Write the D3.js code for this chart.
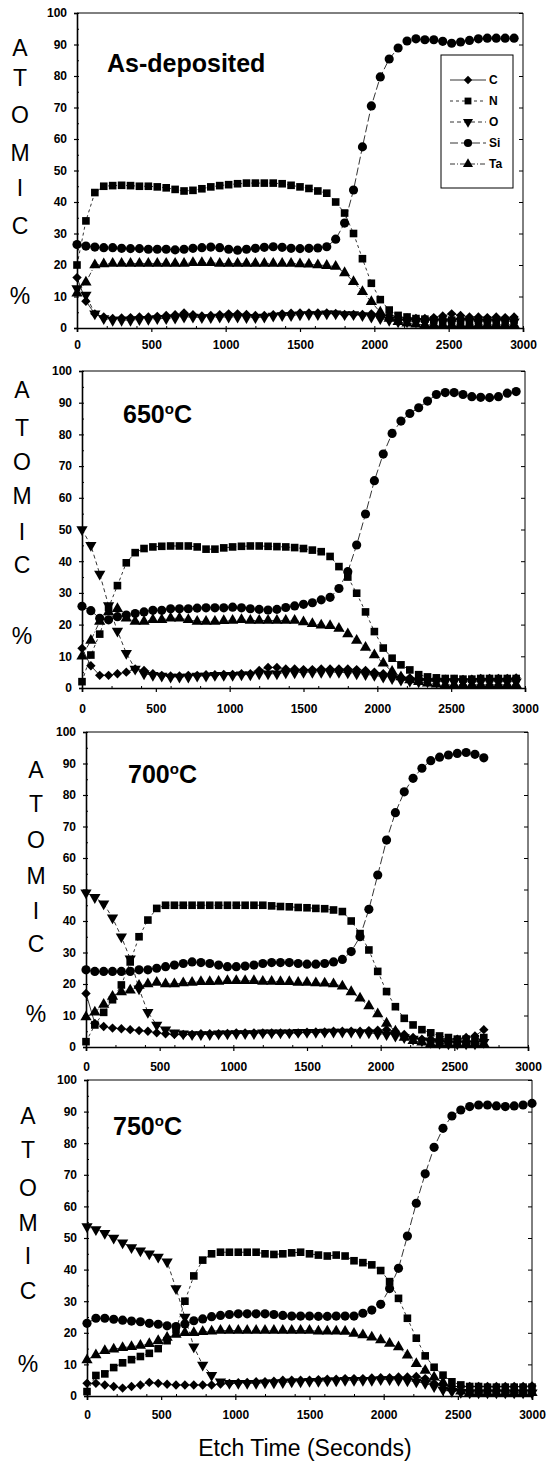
<!DOCTYPE html>
<html>
<head>
<meta charset="utf-8">
<script src="https://cdn.jsdelivr.net/npm/d3@7"></script>
<style>
  body { margin: 0; background: #fff; }
  text { font-family: "Liberation Sans", Arial, sans-serif; fill: #000; }
</style>
</head>
<body>
<svg id="chart" width="550" height="1462"></svg>
<script>
// etch time grid (seconds), series values below are matched by index
const etchTime = [
  0, 60, 120, 180, 240, 300, 360, 420, 480, 540,
  600, 660, 720, 780, 840, 900, 960, 1020, 1080, 1140,
  1200, 1260, 1320, 1380, 1440, 1500, 1560, 1620, 1680, 1740,
  1800, 1860, 1920, 1980, 2040, 2100, 2160, 2220, 2280, 2340,
  2400, 2460, 2520, 2580, 2640, 2700, 2760, 2820, 2880, 2940,
  3000];

const elements = ["C", "N", "O", "Si", "Ta"];
const yTickValues = [0, 10, 20, 30, 40, 50, 60, 70, 80, 90, 100];
const xTickValues = [0, 500, 1000, 1500, 2000, 2500, 3000];
const axisLetters = ["A", "T", "O", "M", "I", "C", "%"];
const panelTitles = ["As-deposited", "650", "700", "750"];

// --- As-deposited ---
const asDepC = [
  16, 8.5, 4.5, 3.5, 3, 3.2, 3.3, 3.5, 3.5, 3.7,
  4, 4.2, 4.8, 4.2, 3.8, 4, 4.2, 4.5, 4.5, 4.3,
  4, 4, 4.2, 4.5, 4.7, 4.8, 4.8, 4.8, 4.8, 4.6,
  4.3, 4.3, 4.3, 4.5, 4.2, 4, 3.5, 3.2, 3, 3,
  3.3, 3.8, 4.5, 4, 3.5, 3.5, 3.3, 3.5, 3.3, 3.5];
const asDepN = [
  20, 34, 43, 45, 45.2, 45.3, 45.2, 45, 45, 44.8,
  44.5, 44, 43.5, 43.7, 44.2, 44.8, 45.2, 45.5, 45.8, 46,
  46, 46, 46, 45.8, 45.3, 44.8, 44.3, 43.5, 42.8, 40,
  36.5, 30, 22, 14.2, 9, 5.7, 4, 3.5, 3, 2.8,
  2.5, 2.5, 2.5, 2.3, 2.3, 2.5, 2.5, 2.3, 2.3, 2.5];
const asDepO = [
  12.5, 10.5, 4.5, 3, 2.5, 2.5, 2.5, 2.7, 2.8, 3,
  3, 3.2, 3.5, 3.5, 3.3, 3.3, 3.5, 3.5, 3.5, 3.3,
  3.3, 3.5, 3.8, 4, 4, 4.2, 4.3, 4.3, 4.5, 4.5,
  4.3, 4.3, 4, 3.5, 3, 2.5, 2, 2, 2, 2,
  2, 2, 2, 2.2, 2.2, 2, 2, 2, 2.2, 2];
const asDepSi = [
  26.5, 26, 25.7, 25.5, 25.5, 25.3, 25.2, 25.2, 25, 25,
  25, 24.8, 25, 25.3, 25.5, 25.7, 25.5, 25, 24.7, 25,
  25.3, 25.6, 25.8, 25.6, 25.3, 25.2, 25.3, 25.4, 25.8, 28.2,
  33.3, 43.8, 57.5, 70.5, 79.7, 85.4, 88.9, 91.1, 91.8, 91.5,
  91.5, 91, 90.4, 90.8, 91.3, 91.8, 92, 92, 92, 92];
const asDepTa = [
  11, 14.5, 20, 20.3, 20.5, 20.5, 20.5, 20.5, 20.5, 20.5,
  20.5, 20.5, 20.5, 20.7, 20.7, 20.7, 20.5, 20.5, 20.5, 20.5,
  20.5, 20.5, 20.5, 20.5, 20.5, 20.3, 20.2, 20, 19.8, 19.5,
  17.5, 14.7, 11.5, 8.3, 5, 3, 2, 1.5, 1.2, 1,
  1, 1, 1, 1, 1, 1, 1, 1, 1, 1];

// --- 650 C ---
const t650C = [
  12.5, 7, 4, 4, 4.5, 5, 6, 5.5, 4.5, 4,
  3.8, 3.8, 4, 4, 4.2, 4.2, 4.3, 4.3, 4.5, 4.5,
  5.5, 6.5, 6.5, 6, 6, 5.8, 5.8, 6, 6, 6,
  6, 5.8, 5.5, 5, 4.5, 4, 3.5, 3.2, 3, 2.8,
  2.8, 2.8, 2.7, 2.7, 2.8, 3, 3, 3, 3, 3.2];
const t650N = [
  2, 10.4, 17, 25.4, 32.3, 39.5, 42.7, 44, 44.5, 44.7,
  44.8, 44.8, 44.8, 44.5, 43.8, 43.8, 44.2, 44.5, 44.7, 44.8,
  44.8, 44.7, 44.6, 44.5, 44.3, 44, 43.5, 43, 41.5, 38.3,
  35, 29.9, 24, 17.8, 12.6, 9.4, 7.3, 5.7, 4.2, 3.5,
  3.2, 3, 3, 2.8, 2.8, 3, 3, 3, 3, 3];
const t650O = [
  50, 45, 36, 26, 18, 11, 6, 4.5, 4, 3.8,
  3.5, 3.5, 3.5, 3.8, 3.8, 4, 4, 4, 4.2, 4.2,
  4.5, 4.5, 4.5, 4.8, 4.8, 5, 5, 5, 5, 5,
  4.8, 4.5, 4.3, 4, 3.5, 3, 2.5, 2.2, 2, 2,
  2, 2, 2, 2, 2, 2, 2, 2, 2, 2];
const t650Si = [
  25.8, 24.4, 22, 21.5, 22.5, 23, 23.5, 24, 24.5, 24.5,
  25, 25, 25, 25.2, 25.3, 25.3, 25.3, 25.5, 25.3, 25,
  24.8, 24.6, 24.8, 25.4, 25.9, 26.4, 26.9, 27.8, 28.6, 31.4,
  36.7, 45.1, 54.9, 65.4, 73.8, 80.3, 84.2, 86.6, 88.4, 90.5,
  92.6, 93.2, 93.2, 92.6, 91.9, 91.7, 91.6, 91.9, 93, 93.5];
const t650Ta = [
  10, 15, 21, 24, 25, 22, 21, 21, 21.5, 21.5,
  22, 22, 21.5, 21, 21, 21, 21.2, 21.3, 21.5, 21.3,
  21.3, 21.3, 21.3, 21.3, 21.3, 20.8, 20.3, 19.8, 19.6, 18.8,
  17, 15, 12.8, 10.4, 7.8, 5.2, 3.5, 2.5, 2, 1.5,
  1.2, 1, 1, 1, 1, 1, 1, 1, 1, 1];

// --- 700 C ---
const t700C = [
  17, 7.5, 6.5, 6, 5.8, 5.5, 5.2, 5, 4.5, 4.2,
  4, 4, 4, 4.2, 4.2, 4.2, 4.3, 4.5, 4.5, 4.5,
  4.5, 4.5, 4.5, 4.5, 4.5, 4.7, 4.8, 4.8, 5, 5,
  5, 5, 5.2, 5.3, 5.5, 5, 4, 3, 2.5, 2.5,
  2.5, 2.5, 2.5, 3, 3.5, 5.5];
const t700N = [
  1.7, 7, 11, 15, 19.7, 27, 35, 40.3, 44, 45,
  45, 45, 45, 45, 45, 45, 45, 45, 45, 45,
  45, 44.8, 44.6, 44.5, 44.3, 44.2, 44, 43.9, 43.5, 43,
  40, 36, 30.8, 24, 17.6, 12.8, 9.1, 7, 5.5, 4.5,
  3.5, 3, 2.5, 2.5, 2.5, 3];
const t700O = [
  49, 47.5, 45.5, 41, 35, 28, 18.5, 11, 7, 5.5,
  4.5, 4.2, 4, 4, 4, 4.2, 4.2, 4.3, 4.3, 4.3,
  4.5, 4.5, 4.5, 4.5, 4.7, 4.7, 4.7, 4.8, 4.8, 4.8,
  4.8, 4.5, 4.5, 4.2, 4, 3.5, 3, 2.5, 2, 1.5,
  1.2, 1, 1, 1, 1, 1.5];
const t700Si = [
  24.5, 24, 24, 24, 24, 24, 24.5, 24.5, 25, 25.5,
  26, 26.5, 27, 26.8, 26.5, 26, 25.5, 25.5, 25.7, 26,
  26.5, 26.8, 26.8, 26.8, 26.5, 26.3, 26.3, 26.5, 27, 27.8,
  30.3, 35, 43.7, 54.6, 65.7, 74.4, 81, 85.3, 88.5, 90.9,
  92, 92.7, 93.2, 93.5, 92.9, 91.8];
const t700Ta = [
  9.5, 11, 13.5, 16, 17.5, 18, 19.5, 20, 20.5, 20,
  20, 20.3, 20.5, 20.7, 20.7, 20.8, 21, 21, 21, 21,
  20.8, 20.8, 20.7, 20.7, 20.5, 20.5, 20.3, 20.2, 20, 19.3,
  17.5, 15.5, 13, 10.5, 7.5, 5, 3, 2, 1.5, 1,
  1, 1, 1, 1, 1, 1];

// --- 750 C ---
const t750C = [
  4, 4, 3.5, 3, 2.5, 3, 3.5, 4.3, 4, 3.7,
  3.5, 3.5, 3.5, 3.5, 3.5, 3.8, 4, 4.2, 4.3, 4.5,
  4.5, 4.7, 5, 5, 5, 5, 5.2, 5.3, 5.3, 5.5,
  5.5, 5.5, 5.7, 5.8, 5.8, 6, 6, 6.2, 5.5, 4,
  3.5, 3, 3, 3, 3, 3, 3, 3, 3, 3,
  3.2];
const t750N = [
  1.4, 6.5, 7, 9, 10.5, 11.5, 12.5, 13.5, 15, 17.5,
  21, 30, 38, 43, 45, 45.5, 45.5, 45.5, 45.5, 45.5,
  45, 44.8, 45, 45.3, 45.5, 45, 44.6, 44.3, 44.6, 44.3,
  42.8, 42.2, 41.5, 39.7, 36.2, 30.9, 24.6, 18.3, 12.7, 9.1,
  6.6, 4.5, 3.5, 3, 3, 2.8, 2.8, 2.8, 2.8, 2.8,
  2.8];
const t750O = [
  53.6, 52.7, 51.5, 50, 48.5, 47, 46, 45, 44, 42.5,
  34, 25, 15.6, 9.8, 6.6, 4.5, 4, 4, 4, 4,
  4.2, 4.2, 4.3, 4.5, 4.5, 4.7, 4.7, 4.8, 4.8, 5,
  5, 5, 5, 5.2, 5.2, 5, 4.8, 4.5, 4, 3,
  2, 1.5, 1.2, 1, 1, 1, 1, 1, 1, 1,
  1];
const t750Si = [
  23, 24.6, 24.6, 24.3, 24, 23.7, 23.5, 23, 22.7, 22.2,
  22, 22.8, 23.8, 24.4, 25.1, 25.5, 25.8, 26, 26, 26,
  26, 25.8, 25.5, 25.3, 25.3, 25.3, 25.2, 25.2, 25.3, 25.3,
  25.3, 26.2, 27.2, 29, 34, 40.4, 50.6, 61, 70.3, 78.7,
  84.7, 88.6, 90.5, 91.6, 92.1, 92.1, 91.8, 91.6, 91.8, 92.1,
  92.6];
const t750Ta = [
  11.4, 13, 14.3, 14.8, 15.3, 15.6, 16, 16.5, 17.5, 18.5,
  19.5, 20, 20, 20.3, 20.5, 20.7, 20.7, 20.7, 20.7, 20.7,
  20.7, 20.7, 20.7, 20.7, 20.7, 20.7, 20.5, 20.5, 20.5, 20.4,
  19.8, 19.3, 18.6, 17.7, 16.6, 15.5, 12.9, 10.2, 8.1, 5.9,
  4.3, 2.5, 1.5, 1, 1, 1, 1, 1, 1, 1,
  1];

// panel layout (pixel positions only)
const layout = [
  {x0: 77, x1: 523, y0: 13, y1: 328, tx: 107, ty: 72, lx: 20, xlab: 20,
   letters: [48, 78, 115, 153, 188, 226, 296]},
  {x0: 82, x1: 525, y0: 371, y1: 688, tx: 123, ty: 423, lx: 22, xlab: 24,
   letters: [390, 428, 462, 496, 532, 565, 636]},
  {x0: 86, x1: 528, y0: 732, y1: 1047, tx: 128, ty: 783, lx: 36, xlab: 23,
   letters: [770, 804, 840, 876, 911, 944, 1014]},
  {x0: 87, x1: 532, y0: 1080, y1: 1396, tx: 113, ty: 1135, lx: 28, xlab: 22,
   letters: [1116, 1150, 1188, 1223, 1256, 1291, 1364]}
];

const panelData = [
  [asDepC, asDepN, asDepO, asDepSi, asDepTa],
  [t650C, t650N, t650O, t650Si, t650Ta],
  [t700C, t700N, t700O, t700Si, t700Ta],
  [t750C, t750N, t750O, t750Si, t750Ta]
];

// marker + line style per element
const styles = {
  C:  {shape: d3.symbolSquare,   size: 44, rot: 45,  dash: null},
  N:  {shape: d3.symbolSquare,   size: 58, rot: 0,   dash: "3,3"},
  O:  {shape: d3.symbolTriangle, size: 55, rot: 180, dash: "4,3"},
  Si: {shape: d3.symbolCircle,   size: 66, rot: 0,   dash: "8,3"},
  Ta: {shape: d3.symbolTriangle, size: 55, rot: 0,   dash: "5,2,1,2"}
};

const svg = d3.select("#chart");

function drawPanel(k) {
  const p = layout[k];
  const x = d3.scaleLinear().domain([0, 3000]).range([p.x0, p.x1]);
  const y = d3.scaleLinear().domain([0, 100]).range([p.y1, p.y0]);
  const g = svg.append("g");

  // top + right frame
  g.append("line").attr("x1", p.x0).attr("x2", p.x1).attr("y1", p.y0).attr("y2", p.y0)
    .attr("stroke", "#000").attr("stroke-width", 1);
  g.append("line").attr("x1", p.x1).attr("x2", p.x1).attr("y1", p.y0).attr("y2", p.y1)
    .attr("stroke", "#000").attr("stroke-width", 1);

  // right inner ticks
  const right = g.append("g").attr("transform", `translate(${p.x1},0)`)
    .call(d3.axisRight(y).tickValues(yTickValues).tickSize(-4).tickFormat(""));
  right.select(".domain").remove();

  // left axis
  const left = g.append("g").attr("transform", `translate(${p.x0},0)`)
    .call(d3.axisLeft(y).tickValues(yTickValues).tickSize(3).tickPadding(7));
  left.select(".domain").attr("stroke-width", 1.6);
  left.selectAll(".tick line").attr("stroke-width", 1.2);
  left.selectAll("text").attr("font-size", 12).attr("font-weight", "bold")
    .attr("font-family", "'Liberation Sans', Arial, sans-serif");
  // minor ticks on left
  g.append("g").attr("transform", `translate(${p.x0},0)`)
    .call(d3.axisRight(y).ticks(20).tickSize(2).tickFormat(""))
    .select(".domain").remove();

  // bottom axis
  const bottom = g.append("g").attr("transform", `translate(0,${p.y1})`)
    .call(d3.axisBottom(x).tickValues(xTickValues).tickSize(4).tickPadding(p.xlab - 12)
      .tickFormat(d3.format("d")));
  bottom.select(".domain").attr("stroke-width", 1.6);
  bottom.selectAll(".tick line").attr("stroke-width", 1.2);
  bottom.selectAll("text").attr("font-size", 12).attr("font-weight", "bold")
    .attr("font-family", "'Liberation Sans', Arial, sans-serif");
  g.append("g").attr("transform", `translate(0,${p.y1})`)
    .call(d3.axisTop(x).ticks(12).tickSize(2).tickFormat(""))
    .select(".domain").remove();

  // vertical ATOMIC % letters
  g.selectAll("text.letter").data(axisLetters).enter().append("text")
    .attr("class", "letter")
    .attr("x", p.lx).attr("y", (d, i) => p.letters[i])
    .attr("dy", "0.36em")
    .attr("text-anchor", "middle").attr("font-size", 23)
    .text(d => d);

  // title
  const title = g.append("text").attr("x", p.tx).attr("y", p.ty)
    .attr("font-size", 25).attr("font-weight", "bold");
  if (k === 0) {
    title.text(panelTitles[k]);
  } else {
    title.append("tspan").text(panelTitles[k]);
    title.append("tspan").attr("dy", -9).attr("font-size", 15).text("o");
    title.append("tspan").attr("dy", 9).text("C");
  }

  // series
  const series = panelData[k];
  const line = d3.line().x(d => x(d[0])).y(d => y(d[1]));
  series.forEach((vals, s) => {
    const st = styles[elements[s]];
    const pts = vals.map((v, i) => [etchTime[i], v]);
    g.append("path").datum(pts).attr("d", line)
      .attr("fill", "none").attr("stroke", "#000").attr("stroke-width", 0.8)
      .attr("stroke-dasharray", st.dash);
  });
  series.forEach((vals, s) => {
    const st = styles[elements[s]];
    const sym = d3.symbol().type(st.shape).size(st.size);
    g.append("g").selectAll("path").data(vals).enter().append("path")
      .attr("d", sym)
      .attr("transform", (v, i) => `translate(${x(etchTime[i])},${y(v)}) rotate(${st.rot})`)
      .attr("fill", "#000");
  });

  if (k === 0) drawLegend(g);
}

function drawLegend(g) {
  g.append("rect").attr("x", 441).attr("y", 55).attr("width", 72).attr("height", 133)
    .attr("fill", "#fff").attr("stroke", "#000").attr("stroke-width", 1);
  const rowY = d3.scalePoint().domain(elements).range([80, 164]);
  elements.forEach(el => {
    const st = styles[el];
    const yy = rowY(el);
    g.append("line").attr("x1", 450).attr("x2", 486).attr("y1", yy).attr("y2", yy)
      .attr("stroke", "#000").attr("stroke-width", 0.8).attr("stroke-dasharray", st.dash);
    g.append("path").attr("d", d3.symbol().type(st.shape).size(st.size * 0.8))
      .attr("transform", `translate(468,${yy}) rotate(${st.rot})`).attr("fill", "#000");
    g.append("text").attr("x", 489).attr("y", yy).attr("dy", "0.36em")
      .attr("font-size", 12).attr("font-weight", "bold").text(el);
  });
}

for (let k = 0; k < 4; k++) drawPanel(k);

svg.append("text").attr("x", 305).attr("y", 1456).attr("text-anchor", "middle")
  .attr("font-size", 23).text("Etch Time (Seconds)");
</script>
</body>
</html>
